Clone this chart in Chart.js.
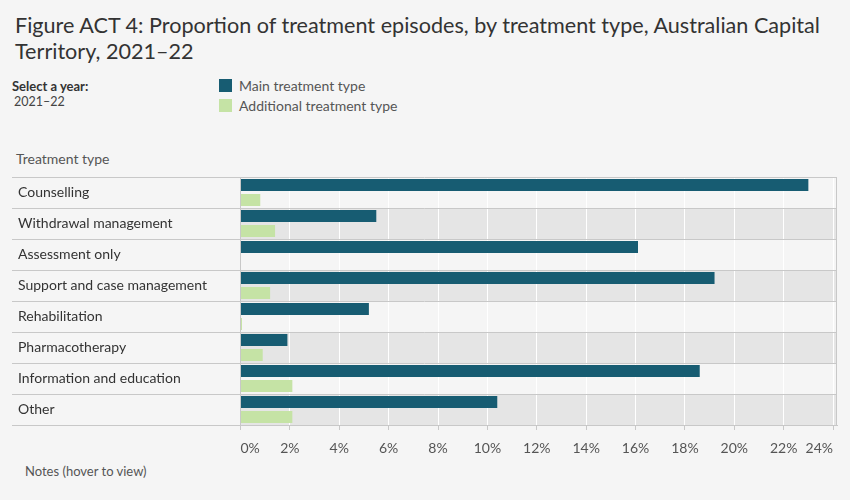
<!DOCTYPE html>
<html>
<head>
<meta charset="utf-8">
<script src="https://cdn.jsdelivr.net/npm/chart.js@4.4.1/dist/chart.umd.min.js"></script>
<style>
  body { margin: 0; background: #f5f5f5; font-family: Lato, sans-serif; }
  #wrap { position: relative; width: 850px; height: 500px; overflow: hidden; }
  canvas { position: absolute; left: 0; top: 0; }
  .t { position: absolute; white-space: nowrap; color: #333; }
  .sw { position: absolute; width: 13px; height: 13px; }
</style>
</head>
<body>
<div id="wrap">
  <div class="t" style="left:15px;top:12px;font-size:21.6px;line-height:26px;color:#333">Figure ACT 4: Proportion of treatment episodes, by treatment type, Australian Capital<br>Territory, 2021–22</div>
  <div class="t" style="left:12px;top:78px;font-size:13px;font-weight:bold;color:#333">Select a year:</div>
  <div class="t" style="left:14px;top:94px;font-size:12.5px;color:#444">2021–22</div>
  <div class="sw" style="left:219px;top:79px;background:#175c72"></div>
  <div class="sw" style="left:219px;top:99px;background:#c5e3a5"></div>
  <div class="t" style="left:239px;top:77px;font-size:14px;color:#555">Main treatment type</div>
  <div class="t" style="left:239px;top:97px;font-size:14px;color:#555">Additional treatment type</div>
  <div class="t" style="left:16px;top:150px;font-size:14px;color:#555">Treatment type</div>
  <div class="t" style="left:25px;top:463px;font-size:13px;color:#555">Notes (hover to view)</div>
  <canvas id="chart" width="850" height="500"></canvas>
</div>
<script>
// values, in percent
const categories = ['Counselling', 'Withdrawal management', 'Assessment only', 'Support and case management',
  'Rehabilitation', 'Pharmacotherapy', 'Information and education', 'Other'];
const mainValues = [23.0, 5.5, 16.1, 19.2, 5.2, 1.9, 18.6, 10.4];
const additionalValues = [0.8, 1.4, 0, 1.2, 0.06, 0.9, 2.1, 2.1];
const xTicks = [0, 2, 4, 6, 8, 10, 12, 14, 16, 18, 20, 22, 24];
const xTickLabels = ['0%', '2%', '4%', '6%', '8%', '10%', '12%', '14%', '16%', '18%', '20%', '22%', '24%'];

const LINE = '#c8c8c8';

// alternate row shading + row separator lines
const rowBands = {
  id: 'rowBands',
  beforeDraw(chart) {
    const { ctx, chartArea: a } = chart;
    const h = (a.bottom - a.top) / categories.length;
    ctx.save();
    ctx.fillStyle = '#e5e5e5';
    categories.forEach((c, i) => {
      if (i % 2 === 1) ctx.fillRect(a.left, a.top + i * h, a.right - a.left, h);
    });
    ctx.restore();
  },
  beforeDatasetsDraw(chart) {
    const { ctx, chartArea: a } = chart;
    const h = (a.bottom - a.top) / categories.length;
    ctx.save();
    ctx.strokeStyle = LINE;
    ctx.lineWidth = 1;
    ctx.beginPath();
    for (let i = 0; i <= categories.length; i++) {
      const y = Math.round(a.top + i * h) + 0.5;
      ctx.moveTo(12, y);
      ctx.lineTo(a.right, y);
    }
    ctx.moveTo(Math.round(a.right) - 0.5, a.top);
    ctx.lineTo(Math.round(a.right) - 0.5, a.bottom);
    ctx.stroke();
    ctx.restore();
  }
};

new Chart(document.getElementById('chart'), {
  type: 'bar',
  data: {
    labels: categories,
    datasets: [
      { label: 'Main treatment type', data: mainValues, backgroundColor: '#175c72' },
      { label: 'Additional treatment type', data: additionalValues, backgroundColor: '#c5e3a5' }
    ]
  },
  options: {
    indexAxis: 'y',
    responsive: false,
    animation: false,
    barPercentage: 0.8,
    categoryPercentage: 30 / 31,
    layout: { padding: { left: 18, right: 13, top: 177, bottom: 39 } },
    plugins: { legend: { display: false }, tooltip: { enabled: false } },
    scales: {
      x: {
        min: 0,
        max: 24.16,
        afterBuildTicks: s => { s.ticks = xTicks.map(v => ({ value: v })); },
        afterFit: s => { s.height = 36; },
        grid: {
          color: c => (c.tick && c.tick.value === 0 ? 'rgba(0,0,0,0)' : '#ffffff'),
          tickColor: LINE,
          tickLength: 5
        },
        border: { color: LINE },
        ticks: {
          align: 'inner',
          padding: 10,
          color: '#555',
          font: { family: 'Lato', size: 14 },
          callback: (v, i) => xTickLabels[i]
        }
      },
      y: {
        afterFit: s => { s.width = 222.5; },
        grid: { display: false },
        border: { color: LINE },
        ticks: {
          crossAlign: 'far',
          padding: 0,
          color: '#333',
          font: { family: 'Lato', size: 14 }
        }
      }
    }
  },
  plugins: [rowBands]
});
</script>
</body>
</html>
